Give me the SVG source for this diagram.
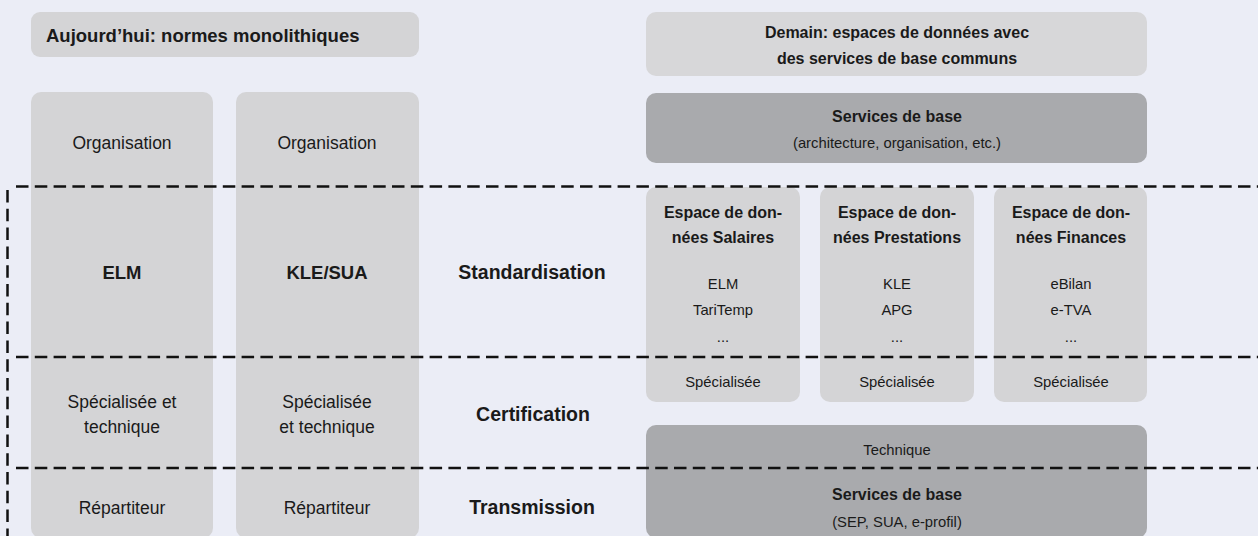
<svg xmlns="http://www.w3.org/2000/svg" width="1258" height="536" viewBox="0 0 1258 536">
<style>
.bg{fill:#ebedf6}
.box{fill:#d4d4d6}
.hdr{fill:#d7d7d9}
.dark{fill:#a9aaad}
text{font-family:"Liberation Sans",Arial,sans-serif;fill:#1a1a1a;text-anchor:middle}
.lb{font-weight:bold;font-size:18.5px}
.lr{font-size:17.5px}
.rb{font-weight:bold;font-size:16px}
.rr{font-size:14.8px}
.sep{stroke:#111;stroke-width:2.5;fill:none;stroke-dasharray:12.5 6.3}
</style>
<rect class="bg" x="0" y="0" width="1258" height="536"/>
<g id="header-left">
<rect class="box" x="31" y="12" width="388" height="45" rx="9"/>
<text class="lb" x="46" y="42" style="text-anchor:start">Aujourd’hui: normes monolithiques</text>
</g>
<g id="col-elm">
<rect class="box" x="31" y="92" width="182" height="446" rx="10"/>
<text class="lr" x="122" y="149">Organisation</text>
<text class="lb" x="122" y="279">ELM</text>
<text class="lr" x="122" y="408">Spécialisée et</text>
<text class="lr" x="122" y="433">technique</text>
<text class="lr" x="122" y="514">Répartiteur</text>
</g>
<g id="col-kle">
<rect class="box" x="236" y="92" width="183" height="446" rx="10"/>
<text class="lr" x="327" y="149">Organisation</text>
<text class="lb" x="327" y="279">KLE/SUA</text>
<text class="lr" x="327" y="408">Spécialisée</text>
<text class="lr" x="327" y="433">et technique</text>
<text class="lr" x="327" y="514">Répartiteur</text>
</g>
<g id="layer-labels">
<text class="lb" x="532" y="279" style="font-size:19.5px">Standardisation</text>
<text class="lb" x="533" y="421" style="font-size:19.5px">Certification</text>
<text class="lb" x="532" y="514" style="font-size:19.5px">Transmission</text>
</g>
<g id="header-right">
<rect class="hdr" x="646" y="12" width="501" height="64" rx="10"/>
<text class="rb" x="897" y="38">Demain: espaces de données avec</text>
<text class="rb" x="897" y="64">des services de base communs</text>
</g>
<g id="services-top">
<rect class="dark" x="646" y="93" width="501" height="70" rx="10"/>
<text class="rb" x="897" y="122">Services de base</text>
<text class="rr" x="897" y="148">(architecture, organisation, etc.)</text>
</g>
<g id="space-salaires">
<rect class="box" x="646" y="187" width="154" height="215" rx="10"/>
<text class="rb" x="723" y="218">Espace de don-</text>
<text class="rb" x="723" y="243">nées Salaires</text>
<text class="rr" x="723" y="289">ELM</text>
<text class="rr" x="723" y="315">TariTemp</text>
<text class="rr" x="723" y="342">...</text>
<text class="rr" x="723" y="387">Spécialisée</text>
</g>
<g id="space-prestations">
<rect class="box" x="820" y="187" width="154" height="215" rx="10"/>
<text class="rb" x="897" y="218">Espace de don-</text>
<text class="rb" x="897" y="243">nées Prestations</text>
<text class="rr" x="897" y="289">KLE</text>
<text class="rr" x="897" y="315">APG</text>
<text class="rr" x="897" y="342">...</text>
<text class="rr" x="897" y="387">Spécialisée</text>
</g>
<g id="space-finances">
<rect class="box" x="994" y="187" width="153" height="215" rx="10"/>
<text class="rb" x="1071" y="218">Espace de don-</text>
<text class="rb" x="1071" y="243">nées Finances</text>
<text class="rr" x="1071" y="289">eBilan</text>
<text class="rr" x="1071" y="315">e-TVA</text>
<text class="rr" x="1071" y="342">...</text>
<text class="rr" x="1071" y="387">Spécialisée</text>
</g>
<g id="services-bottom">
<rect class="dark" x="646" y="425" width="501" height="113" rx="10"/>
<text class="rr" x="897" y="455">Technique</text>
<text class="rb" x="897" y="500">Services de base</text>
<text class="rr" x="897" y="527">(SEP, SUA, e-profil)</text>
</g>
<g id="connectors">
<line class="sep" x1="16" y1="186.5" x2="1258" y2="186.5"/>
<line class="sep" x1="16" y1="357" x2="1258" y2="357"/>
<line class="sep" x1="16" y1="468" x2="1258" y2="468"/>
<line class="sep" x1="7.5" y1="190" x2="7.5" y2="536"/>
</g>
</svg>
